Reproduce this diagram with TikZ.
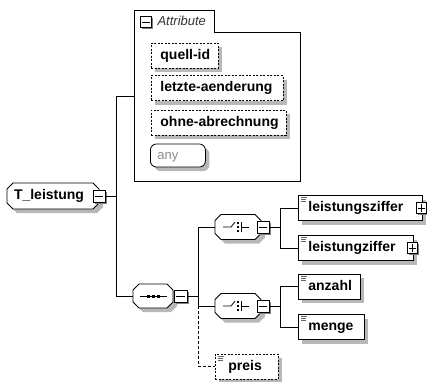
\documentclass[tikz,border=0pt]{standalone}
\usepackage{fontspec}
\setmainfont{Liberation Sans}
\usetikzlibrary{shadows}

% octagon behind a model-group node: centre x, centre y, half width, half height
\newcommand{\octshape}[4]{%
    \fill[black!28,shift={(4,4)}] (#1-#3+6,#2-#4) -- (#1+#3-6,#2-#4) -- (#1+#3,#2-#4+6) -- (#1+#3,#2+#4-6)
        -- (#1+#3-6,#2+#4) -- (#1-#3+6,#2+#4) -- (#1-#3,#2+#4-6) -- (#1-#3,#2-#4+6) -- cycle;
    \filldraw[fill=white,line width=0.8pt] (#1-#3+6,#2-#4) -- (#1+#3-6,#2-#4) -- (#1+#3,#2-#4+6) -- (#1+#3,#2+#4-6)
        -- (#1+#3-6,#2+#4) -- (#1-#3+6,#2+#4) -- (#1-#3,#2+#4-6) -- (#1-#3,#2-#4+6) -- cycle;}

\begin{document}
\begin{tikzpicture}[x=1pt,y=-1pt,
    every node/.style={font=\fontsize{14}{16}\selectfont\bfseries,
        execute at begin node={\hyphenpenalty=10000\exhyphenpenalty=10000}},
    shade box/.style={drop shadow={shadow xshift=4pt,shadow yshift=-4pt,fill=black!28,opacity=1}},
    octnode/.style={rectangle,inner sep=0pt,text height=10pt,text depth=3pt,align=left},
    elembox/.style={rectangle,draw,fill=white,shade box,line width=0.8pt,anchor=west,minimum height=25pt,inner xsep=10pt,inner ysep=0pt,text height=10pt,text depth=3pt,align=left},
    attrbox/.style={elembox,dash pattern=on 2pt off 1.5pt,inner xsep=9pt},
    togglebox/.style={rectangle,draw,fill=white,line width=0.8pt,minimum width=12pt,minimum height=12pt,inner sep=0pt,drop shadow={shadow xshift=1.5pt,shadow yshift=-1.5pt,fill=black!50,opacity=1}},
    link/.style={line width=0.8pt},
    optlink/.style={line width=0.8pt,dash pattern=on 3pt off 2pt},
    typemark/.style={line width=0.5pt,black!60}]
    \useasboundingbox (0,0) rectangle (427,381);

    % attribute group
    \draw[line width=0.8pt] (134,10) -- (214,10) -- (214,32) -- (300,32) -- (300,181) -- (134,181) -- cycle;
    \node(attrtoggle) [togglebox,minimum width=11pt,minimum height=11pt] at (146,22) {};
    \draw[line width=0.8pt] ([xshift=2pt]attrtoggle.west) -- ([xshift=-2pt]attrtoggle.east);
    \node(attrtitle) [anchor=west,font=\fontsize{13}{15}\selectfont\itshape,text=black!80] at (154,21) {Attribute};
    \node(quellid) [attrbox,text width=49pt] at (151,55.5) {quell-id};
    \node(letzte) [attrbox,text width=114pt] at (151,88) {letzte-aenderung};
    \node(ohne) [attrbox,text width=117pt] at (151,122.5) {ohne-abrechnung};
    \node(any) [elembox,rounded corners=6pt,minimum height=23pt,inner xsep=7pt,text width=41pt,font=\fontsize{13}{15}\selectfont,text=black!45] at (150,155.5) {any};

    % root element
    \octshape{53}{196}{46}{13}
    \node(tleistung) [octnode,minimum width=92pt,minimum height=26pt,text width=78pt] at (53,196) {T\_leistung};
    \node(tltoggle) [togglebox] at (99,196) {};
    \draw[line width=0.8pt] ([xshift=2.5pt]tltoggle.west) -- ([xshift=-2.5pt]tltoggle.east);

    % sequence
    \octshape{153}{296}{20}{12}
    \node(seq) [octnode,minimum width=40pt,minimum height=24pt] at (153,296) {};
    \draw[line width=0.8pt] (140,296) -- (167,296);
    \foreach \dx in {-5,0,5}
        \fill (153+\dx-1.5,294.5) rectangle ++(3,3);
    \node(seqtoggle) [togglebox,minimum width=13pt] at (180.5,296) {};
    \draw[line width=0.8pt] ([xshift=2.5pt]seqtoggle.west) -- ([xshift=-2.5pt]seqtoggle.east);

    % choices
    \foreach \name/\y in {chone/227,chtwo/306} {
        \octshape{238}{\y}{23}{12.5}
        \node(\name) [octnode,minimum width=46pt,minimum height=25pt] at (238,\y) {};
        \draw[line width=0.8pt] (223,\y) -- (231,\y) -- (235,\y-5);
        \foreach \dy in {-4,0,4}
            \fill (237,\y+\dy-1) rectangle ++(2,2);
        \draw[line width=0.8pt] (241,\y-5) -- (241,\y+5) (241,\y) -- (249,\y);
        \node(\name toggle) [togglebox] at (263,\y) {};
        \draw[line width=0.8pt] ([xshift=2.5pt]\name toggle.west) -- ([xshift=-2.5pt]\name toggle.east);
    }

    % elements
    \node(lsz) [elembox,text width=104pt] at (298,208) {leistungsziffer};
    \node(lz) [elembox,text width=95pt] at (298,248) {leistungziffer};
    \node(anzahl) [elembox,text width=42pt] at (298,286.5) {anzahl};
    \node(menge) [elembox,text width=46pt] at (298,327) {menge};
    \node(preis) [elembox,dash pattern=on 2pt off 1.5pt,inner xsep=13pt,text width=37pt] at (215,366.5) {preis};
    \foreach \n in {lsz,lz,anzahl,menge,preis}
        \draw[typemark] ([xshift=3pt,yshift=-2.5pt]\n.north west) -- ++(6pt,0)
            ([xshift=3pt,yshift=-4.5pt]\n.north west) -- ++(5pt,0)
            ([xshift=3pt,yshift=-6.5pt]\n.north west) -- ++(5pt,0);
    \foreach \n in {lsz,lz} {
        \node(\n plus) [togglebox,minimum width=10pt,minimum height=11pt] at ([xshift=-1pt]\n.east) {};
        \draw[line width=0.8pt] ([xshift=2pt]\n plus.west) -- ([xshift=-2pt]\n plus.east)
            ([yshift=2pt]\n plus.south) -- ([yshift=-2pt]\n plus.north);
    }

    % connectors
    \coordinate (tlfork) at (116,196);
    \coordinate (attrin) at (134,96);
    \draw[link] (tltoggle.east) -- (tlfork) |- (attrin);
    \draw[link] (tlfork) |- (seq.west);
    \coordinate (seqfork) at (198,296);
    \draw[link] (seqtoggle.east) -- (seqfork);
    \draw[link] (seqfork) |- (chone.west);
    \draw[link] (seqfork) |- (chtwo.west);
    \draw[optlink] (seqfork) |- (preis.west);
    \coordinate (chonefork) at (280,227);
    \draw[link] (chonetoggle.east) -- (chonefork);
    \draw[link] (chonefork) |- (lsz.west);
    \draw[link] (chonefork) |- (lz.west);
    \coordinate (chtwofork) at (280,306);
    \draw[link] (chtwotoggle.east) -- (chtwofork);
    \draw[link] (chtwofork) |- (anzahl.west);
    \draw[link] (chtwofork) |- (menge.west);
\end{tikzpicture}
\end{document}
